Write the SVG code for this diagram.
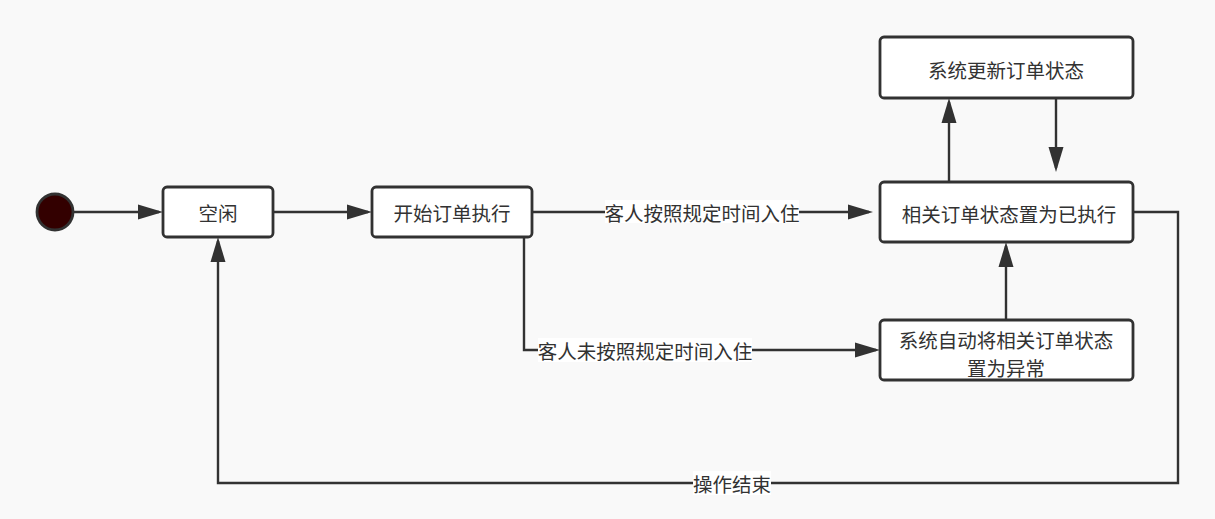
<svg xmlns="http://www.w3.org/2000/svg" width="1215" height="519" viewBox="0 0 1215 519">
<style>
.node rect{fill:#ffffff;stroke:#323232;stroke-width:2.8}
text{font-family:"Noto Sans CJK SC","Noto Sans",sans-serif;font-size:19.5px;fill:#323232;text-anchor:middle;dominant-baseline:central}
.conn path{fill:none;stroke:#323232;stroke-width:2.4}
.lbl{fill:#ffffff;stroke:none}
</style>
<defs>
<marker id="arr" markerUnits="userSpaceOnUse" markerWidth="26" markerHeight="16" refX="21" refY="7.5" orient="auto" overflow="visible">
<path d="M0,0 L25,7.5 L0,15 Z" fill="#323232"/>
</marker>
</defs>
<rect x="0" y="0" width="1215" height="519" fill="#f9f9f9"/>
<g id="connectors" class="conn">
<path d="M73,212 H159" marker-end="url(#arr)"/>
<path d="M273,212 H368" marker-end="url(#arr)"/>
<path d="M532,212 H869" marker-end="url(#arr)"/>
<path d="M524,237 V350 H876" marker-end="url(#arr)"/>
<path d="M949,182 V102" marker-end="url(#arr)"/>
<path d="M1056,98 V168" marker-end="url(#arr)"/>
<path d="M1006,320 V246" marker-end="url(#arr)"/>
<path d="M1133,212 H1178 V483 H218 V241" marker-end="url(#arr)"/>
<rect class="lbl" x="605" y="200" width="194" height="23"/>
<text x="702" y="212">客人按照规定时间入住</text>
<rect class="lbl" x="538" y="338" width="214" height="24"/>
<text x="645" y="350">客人未按照规定时间入住</text>
<rect class="lbl" x="693" y="471" width="78" height="24"/>
<text x="732" y="483">操作结束</text>
</g>
<g id="start">
<circle cx="55" cy="212" r="18" fill="#330000" stroke="#323232" stroke-width="2.8"/>
</g>
<g id="idle" class="node">
<rect x="163" y="187" width="110" height="50" rx="4"/>
<text x="218" y="212">空闲</text>
</g>
<g id="begin" class="node">
<rect x="372" y="187" width="160" height="50" rx="4"/>
<text x="452" y="212">开始订单执行</text>
</g>
<g id="update" class="node">
<rect x="880" y="37" width="253" height="61" rx="4"/>
<text x="1006" y="69">系统更新订单状态</text>
</g>
<g id="executed" class="node">
<rect x="880" y="182" width="253" height="60" rx="4"/>
<text x="1009" y="213">相关订单状态置为已执行</text>
</g>
<g id="abnormal" class="node">
<rect x="880" y="320" width="253" height="60" rx="4"/>
<text x="1006" y="339.5">系统自动将相关订单状态</text>
<text x="1006" y="367.5">置为异常</text>
</g>
</svg>
